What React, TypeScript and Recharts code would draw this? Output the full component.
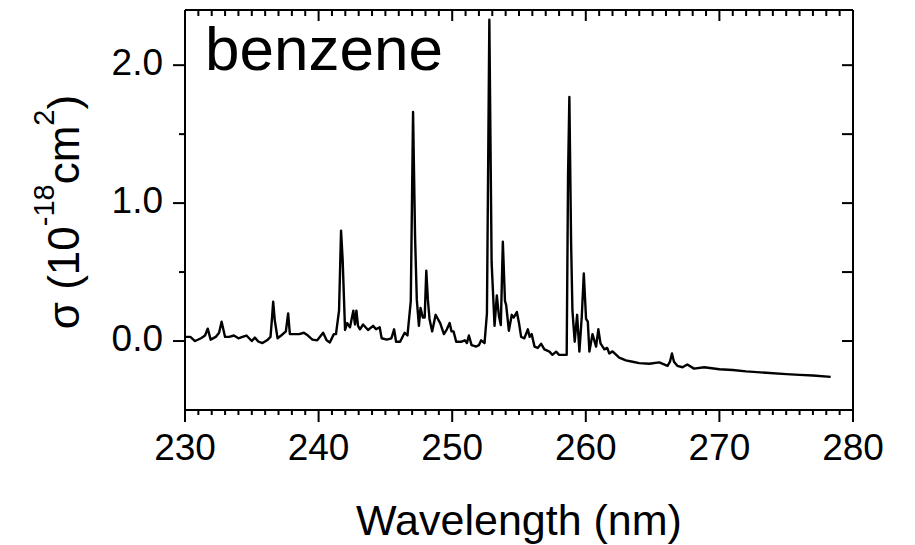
import React from 'react';
import { LineChart, Line, XAxis, YAxis, Customized } from 'recharts';

// benzene absorption cross section
const wavelength = [
  230.0, 230.4, 230.75, 231.2, 231.5, 231.7, 231.92, 232.3, 232.55, 232.74,
  233.0, 233.3, 233.66, 234.0, 234.3, 234.6, 235.0, 235.23, 235.5, 235.8,
  236.2, 236.4, 236.5, 236.6, 236.72, 236.93, 237.2, 237.55, 237.72, 237.85,
  238.2, 238.55, 238.9, 239.2, 239.54, 239.9, 240.34, 240.6, 240.84, 241.14,
  241.3, 241.53, 241.68, 241.8, 241.98, 242.14, 242.35, 242.6, 242.72, 242.83,
  242.95, 243.1, 243.33, 243.7, 244.08, 244.3, 244.57, 244.72, 245.1, 245.45,
  245.65, 245.8, 246.1, 246.44, 246.65, 246.9, 247.07, 247.22, 247.35, 247.51,
  247.63, 247.8, 247.94, 248.06, 248.18, 248.3, 248.5, 248.76, 248.93, 249.1,
  249.38, 249.6, 249.81, 249.95, 250.1, 250.3, 250.7, 250.95, 251.1, 251.25,
  251.45, 251.8, 252.0, 252.17, 252.42, 252.6, 252.78, 252.95, 253.17, 253.34,
  253.5, 253.64, 253.79, 253.95, 254.04, 254.24, 254.46, 254.6, 254.84, 255.0,
  255.16, 255.4, 255.66, 255.8, 255.95, 256.16, 256.4, 256.66, 256.9, 257.28,
  257.5, 257.78, 258.0, 258.57, 258.67, 258.77, 258.9, 259.0, 259.17, 259.35,
  259.52, 259.7, 259.85, 260.02, 260.15, 260.27, 260.5, 260.77, 260.94, 261.1,
  261.39, 261.6, 261.76, 262.0, 262.5, 263.0, 263.5, 264.0, 264.75, 265.5,
  266.12, 266.3, 266.45, 266.6, 266.85, 267.24, 267.6, 268.1, 268.86, 270.0,
  271.0, 272.0, 273.5, 275.0, 276.0, 277.0, 278.33,
];

const sigma = [
  0.03, 0.03, 0.0, 0.02, 0.04, 0.09, 0.01, 0.03, 0.06, 0.14,
  0.03, 0.03, 0.04, 0.02, 0.03, 0.04, 0.0, 0.025, -0.005, -0.015,
  0.01, 0.03, 0.15, 0.285, 0.15, 0.02, 0.04, 0.07, 0.2, 0.05,
  0.05, 0.05, 0.06, 0.04, 0.01, 0.005, 0.06, 0.005, -0.01, 0.05,
  0.05, 0.22, 0.8, 0.59, 0.08, 0.13, 0.1, 0.22, 0.12, 0.22,
  0.11, 0.085, 0.12, 0.08, 0.11, 0.085, 0.1, 0.02, 0.01, 0.02,
  0.085, -0.005, -0.005, 0.06, 0.04, 0.29, 1.66, 0.76, 0.3, 0.11,
  0.24, 0.17, 0.17, 0.51, 0.3, 0.16, 0.07, 0.19, 0.16, 0.13,
  0.05, 0.085, 0.13, 0.07, 0.07, -0.005, -0.005, 0.005, -0.015, 0.04,
  -0.03, -0.04, -0.03, 0.005, -0.015, 0.2, 2.33, 0.57, 0.11, 0.33,
  0.18, 0.116, 0.72, 0.29, 0.26, 0.075, 0.19, 0.17, 0.21, 0.13,
  0.03, 0.02, 0.085, 0.03, 0.05, -0.04, -0.05, -0.02, -0.06, -0.077,
  -0.1, -0.077, -0.1, -0.1, 1.19, 1.77, 0.71, 0.22, -0.005, 0.19,
  -0.077, 0.18, 0.49, 0.16, 0.14, -0.077, 0.05, -0.04, 0.085, -0.017,
  -0.06, -0.05, -0.09, -0.075, -0.12, -0.14, -0.15, -0.16, -0.165, -0.155,
  -0.18, -0.15, -0.09, -0.15, -0.18, -0.19, -0.17, -0.2, -0.19, -0.205,
  -0.21, -0.22, -0.23, -0.24, -0.245, -0.25, -0.26,
];

const xMajorTicks = [230, 240, 250, 260, 270, 280];
const yTicks = [0, 0.5, 1, 1.5, 2];
const yLabelledTicks = [0, 1, 2];

// minor ticks every 1 nm
const xAllTicks: number[] = [];
for (let v = xMajorTicks[0]; v <= xMajorTicks[xMajorTicks.length - 1]; v++) xAllTicks.push(v);

const FONT = '"Liberation Sans", Arial, Helvetica, sans-serif';

const data = wavelength.map((x, i) => ({ x, y: sigma[i] }));

// tickSize=0 and tickMargin=0 so x/y handed to these are the point on the axis line
function BottomTick({ x, y, payload }: any) {
  const v = payload.value;
  const major = xMajorTicks.includes(v);
  return (
    <g>
      <line x1={x} x2={x} y1={y} y2={y + (major ? 12 : 5)} stroke="#000" strokeWidth={2} />
      {major && (
        <text x={x} y={y + 50} textAnchor="middle" fontSize={37} fontFamily={FONT} fill="#000">
          {v}
        </text>
      )}
    </g>
  );
}

function TopTick({ x, y, payload }: any) {
  const major = xMajorTicks.includes(payload.value);
  return <line x1={x} x2={x} y1={y} y2={y + (major ? 11 : 6)} stroke="#000" strokeWidth={2} />;
}

function LeftTick({ x, y, payload }: any) {
  const v = payload.value;
  const major = yLabelledTicks.includes(v);
  return (
    <g>
      <line x1={x} x2={x - (major ? 12 : 6)} y1={y} y2={y} stroke="#000" strokeWidth={2} />
      {major && (
        <text x={x - 22} y={y + 10} textAnchor="end" fontSize={37} fontFamily={FONT} fill="#000">
          {v.toFixed(1)}
        </text>
      )}
    </g>
  );
}

function RightTick({ x, y }: any) {
  return <line x1={x} x2={x - 11} y1={y} y2={y} stroke="#000" strokeWidth={2} />;
}

function Texts() {
  return (
    <g fontFamily={FONT} fill="#000">
      <text x={205} y={70} fontSize={62}>benzene</text>
      <text x={519} y={535} fontSize={43} textAnchor="middle">Wavelength (nm)</text>
      <text transform="translate(79,212) rotate(-90)" textAnchor="middle" fontSize={44}>
        σ (10<tspan fontSize={29} dy={-25}>-18</tspan>
        <tspan dy={25}>cm</tspan>
        <tspan fontSize={29} dy={-25}>2</tspan>
        <tspan dy={25}>)</tspan>
      </text>
    </g>
  );
}

export default function App() {
  const axisLine = { stroke: '#000', strokeWidth: 2 };
  return (
    <div style={{ position: 'absolute', left: 0, top: 0, background: '#fff' }}>
      <LineChart width={915} height={545} data={data} margin={{ top: 10, right: 62, bottom: 0, left: 0 }}>
        <XAxis
          xAxisId="bottom"
          dataKey="x"
          type="number"
          domain={[230, 280]}
          allowDataOverflow
          ticks={xAllTicks}
          interval={0}
          tickSize={0}
          tickMargin={0}
          tickLine={false}
          tick={BottomTick}
          axisLine={axisLine}
          height={135}
        />
        <XAxis
          xAxisId="top"
          orientation="top"
          mirror
          dataKey="x"
          type="number"
          domain={[230, 280]}
          allowDataOverflow
          ticks={xAllTicks}
          interval={0}
          tickSize={0}
          tickMargin={0}
          tickLine={false}
          tick={TopTick}
          axisLine={axisLine}
        />
        <YAxis
          yAxisId="left"
          type="number"
          domain={[-0.5, 2.4]}
          allowDataOverflow
          ticks={yTicks}
          interval={0}
          tickSize={0}
          tickMargin={0}
          tickLine={false}
          tick={LeftTick}
          axisLine={axisLine}
          width={185}
        />
        <YAxis
          yAxisId="right"
          orientation="right"
          mirror
          type="number"
          domain={[-0.5, 2.4]}
          allowDataOverflow
          ticks={yTicks}
          interval={0}
          tickSize={0}
          tickMargin={0}
          tickLine={false}
          tick={RightTick}
          axisLine={axisLine}
        />
        <Line
          xAxisId="bottom"
          yAxisId="left"
          dataKey="y"
          type="linear"
          stroke="#000"
          strokeWidth={2.4}
          strokeLinejoin="round"
          dot={false}
          isAnimationActive={false}
        />
        <Customized component={Texts} />
      </LineChart>
    </div>
  );
}
